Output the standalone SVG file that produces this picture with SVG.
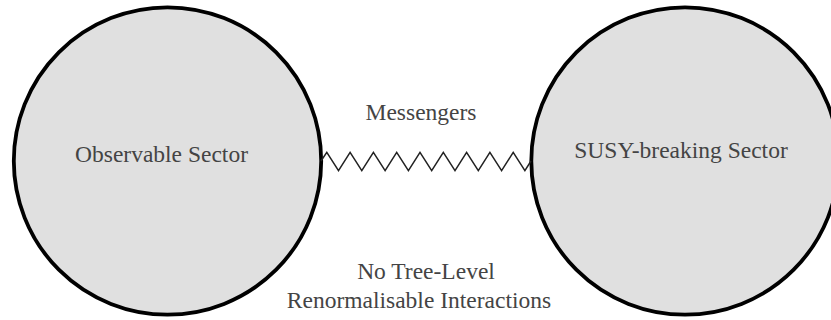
<svg xmlns="http://www.w3.org/2000/svg" width="831" height="320" viewBox="0 0 831 320">
<style>
.sector{fill:#e0e0e0;stroke:#000;stroke-width:3.8}
.lbl{font-size:23.5px;fill:#444;text-anchor:middle}
.spring{fill:none;stroke:#222;stroke-width:1.5;stroke-linejoin:miter}
</style>
<rect width="831" height="320" fill="#fff"/>
<g id="observable">
<circle class="sector" cx="167.5" cy="161" r="153.7"/>
<text class="lbl" font-family="'Liberation Serif', 'Times New Roman', 'DejaVu Serif', serif" x="161.5" y="162">Observable Sector</text>
</g>
<g id="susy">
<circle class="sector" cx="685" cy="161" r="153.7"/>
<text class="lbl" font-family="'Liberation Serif', 'Times New Roman', 'DejaVu Serif', serif" x="681" y="157.5">SUSY-breaking Sector</text>
</g>
<g id="connectors">
<path class="spring" d="M321,161 L326.8,152.3 L338.5,170.7 L350.1,152.3 L361.8,170.7 L373.4,152.3 L385.1,170.7 L396.7,152.3 L408.4,170.7 L420,152.3 L431.7,170.7 L443.3,152.3 L455,170.7 L466.6,152.3 L478.3,170.7 L489.9,152.3 L501.6,170.7 L513.2,152.3 L524.9,170.7 L531,161"/>
</g>
<g id="labels" font-family="'Liberation Serif', 'Times New Roman', 'DejaVu Serif', serif">
<text class="lbl" x="421" y="119.5">Messengers</text>
<text class="lbl" x="426" y="278.5">No Tree-Level</text>
<text class="lbl" x="419" y="308">Renormalisable Interactions</text>
</g>
</svg>
